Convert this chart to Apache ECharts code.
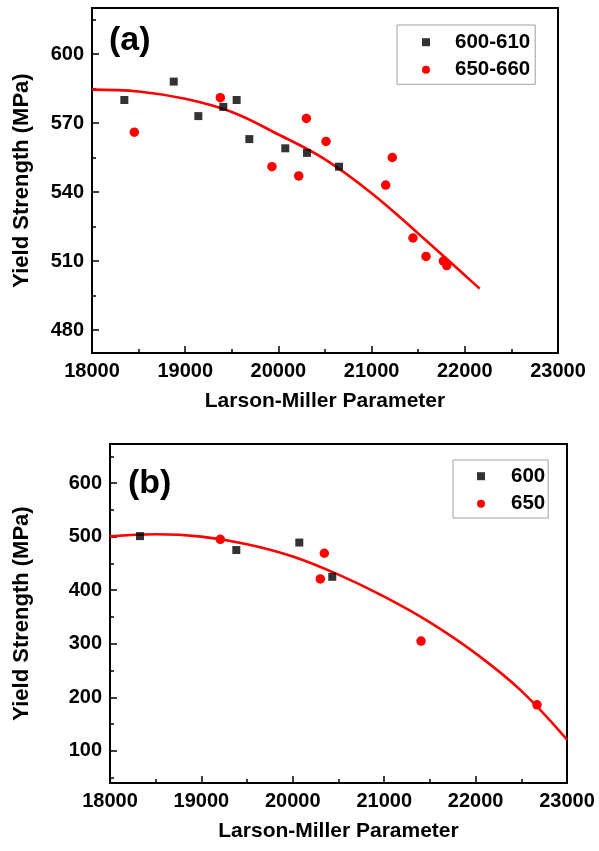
<!DOCTYPE html>
<html>
<head>
<meta charset="UTF-8">
<title>Yield Strength vs Larson-Miller Parameter</title>
<script type="text/javascript" src="https://cdn.jsdelivr.net/npm/echarts@6/dist/echarts.min.js"></script>
<style>body{margin:0;background:#fff;}</style>
</head>
<body>
	<div id="show" style="width:599px;height:851px"></div>
	<script type="text/javascript">
		// panel (a): 600-610 and 650-660
		var aBlackX=[18347,18877,19141,19409,19552,19688,20074,20307,20650];
		var aBlackY=[580,588,573,577,580,563,559,557,551];
		var aRedX=[18454,19377,19931,20218,20300,20511,21151,21222,21444,21584,21770,21806];
		var aRedY=[566,581,551,547,572,562,543,555,520,512,510,508];
		var aFitX=[18000,18500,19000,19500,20000,20500,21000,21500,22000,22160];
		var aFitY=[584.5,583.7,580.5,574.8,565,554.2,539.5,522,503.8,498];
		// panel (b): 600 and 650
		var bBlackX=[18328,19382,20071,20432];
		var bBlackY=[501,475,489,425];
		var bRedX=[19207,20301,20345,21403,22672];
		var bRedY=[495,421,469,305,186];
		var bFitX=[18000,18500,19000,19500,20000,20500,21000,21500,22000,22500,23000];
		var bFitY=[500.5,504.5,500,486,463,429,388,340,282,212,121];
		// ticks
		var aYTicks=[480,510,540,570,600];
		var aYMinor=[495,525,555,585,615];
		var bYTicks=[100,200,300,400,500,600];
		var bYMinor=[50,150,250,350,450,550,650];

		function pairs(xs,ys){
			var out=[];
			for(var i=0;i<xs.length;i++){ out.push([xs[i],ys[i]]); }
			return out;
		}

		var FONT='"Liberation Sans", Arial, sans-serif';
		var black='#000';
		var red='#ff0000';
		var plain=function(v){ return String(v); };

		function xAx(gi){
			return {
				type:'value', gridIndex:gi, min:18000, max:23000, interval:1000,
				name:'Larson-Miller Parameter', nameLocation:'middle', nameGap:38,
				nameTextStyle:{color:black,fontFamily:FONT,fontWeight:'bold',fontSize:21},
				axisLine:{show:true,lineStyle:{color:black,width:2}},
				axisTick:{show:true,inside:true,length:7,lineStyle:{color:black,width:1.5}},
				minorTick:{show:true,splitNumber:2,length:4,lineStyle:{color:black,width:1.5}},
				axisLabel:{show:true,color:black,fontFamily:FONT,fontWeight:'bold',fontSize:20,margin:8,formatter:plain},
				splitLine:{show:false}
			};
		}
		function yAx(gi,min,max,ticks,gap){
			return {
				type:'value', gridIndex:gi, min:min, max:max,
				name:'Yield Strength (MPa)', nameLocation:'middle', nameGap:gap,
				nameTextStyle:{color:black,fontFamily:FONT,fontWeight:'bold',fontSize:22},
				axisLine:{show:true,lineStyle:{color:black,width:2}},
				axisTick:{show:true,inside:true,length:7,lineStyle:{color:black,width:1.5},customValues:ticks},
				axisLabel:{show:true,color:black,fontFamily:FONT,fontWeight:'bold',fontSize:20,margin:8,customValues:ticks,formatter:plain},
				splitLine:{show:false}
			};
		}
		function yMinor(gi,min,max,ticks){
			return {
				type:'value', gridIndex:gi, min:min, max:max, position:'left',
				axisLine:{show:false},
				axisTick:{show:true,inside:true,length:4,lineStyle:{color:black,width:1.5},customValues:ticks},
				axisLabel:{show:false},
				splitLine:{show:false}
			};
		}
		function legendOf(names,left,top,pad,textPad){
			return {
				data:names, orient:'vertical', left:left, top:top,
				padding:pad, itemGap:6.6, itemWidth:8, itemHeight:8,
				borderColor:'#a0a0a0', borderWidth:1, backgroundColor:'#fff',
				selectedMode:false,
				textStyle:{color:black,fontFamily:FONT,fontWeight:'bold',fontSize:20.5,lineHeight:20,padding:[0,0,0,textPad]}
			};
		}

		var myCharts=echarts.init(document.getElementById('show'));
		myCharts.setOption({
			backgroundColor:'#fff',
			animation:false,
			grid:[
				{left:92,top:8,width:466,height:345,show:true,borderColor:black,borderWidth:2},
				{left:110,top:444,width:457,height:339,show:true,borderColor:black,borderWidth:2}
			],
			xAxis:[xAx(0),xAx(1)],
			yAxis:[
				yAx(0,470,620,aYTicks,59),
				yMinor(0,470,620,aYMinor),
				yAx(1,40,673,bYTicks,77),
				yMinor(1,40,673,bYMinor)
			],
			legend:[
				legendOf(['600-610','650-660'],397,25,[6.7,5,4,25],20),
				legendOf(['600','650'],453,460,[5.7,3,3.7,24],21)
			],
			graphic:[
				{type:'text',left:109,top:24,style:{text:'(a)',fill:black,font:'bold 34px '+FONT}},
				{type:'text',left:128,top:467,style:{text:'(b)',fill:black,font:'bold 34px '+FONT}}
			],
			series:[
				{name:'fit a',type:'line',xAxisIndex:0,yAxisIndex:0,data:pairs(aFitX,aFitY),smooth:0.4,
					showSymbol:false,lineStyle:{color:red,width:2.6},z:2},
				{name:'600-610',type:'scatter',xAxisIndex:0,yAxisIndex:0,data:pairs(aBlackX,aBlackY),
					symbol:'rect',symbolSize:8,itemStyle:{color:black},z:3},
				{name:'650-660',type:'scatter',xAxisIndex:0,yAxisIndex:0,data:pairs(aRedX,aRedY),
					symbol:'circle',symbolSize:9.5,itemStyle:{color:red,opacity:1},z:3},
				{name:'fit b',type:'line',xAxisIndex:1,yAxisIndex:2,data:pairs(bFitX,bFitY),smooth:0.4,
					showSymbol:false,lineStyle:{color:red,width:2.6},z:2},
				{name:'600',type:'scatter',xAxisIndex:1,yAxisIndex:2,data:pairs(bBlackX,bBlackY),
					symbol:'rect',symbolSize:8,itemStyle:{color:black},z:3},
				{name:'650',type:'scatter',xAxisIndex:1,yAxisIndex:2,data:pairs(bRedX,bRedY),
					symbol:'circle',symbolSize:9.5,itemStyle:{color:red,opacity:1},z:3}
			]
		});
	</script>
</body>
</html>
